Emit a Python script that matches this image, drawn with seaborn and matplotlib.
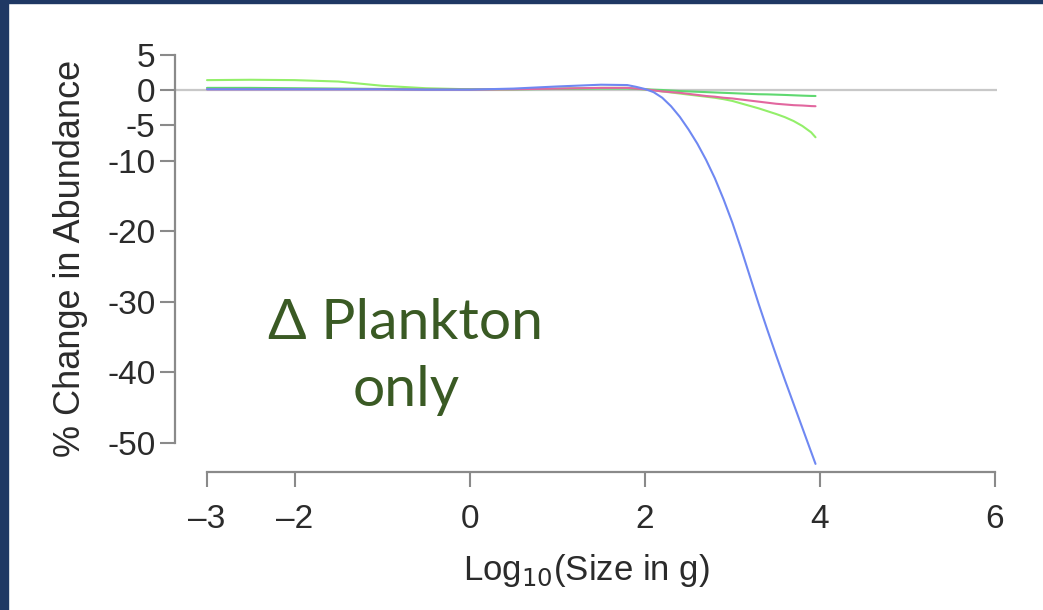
import numpy as np
import pandas as pd
import matplotlib
matplotlib.use("Agg")
import matplotlib.pyplot as plt
from matplotlib.patches import Rectangle
import seaborn as sns

# Log10 body size (g) at which each size-class response was sampled
size_log10 = [-3.0, -2.5, -2.0, -1.5, -1.0, -0.5, 0.0, 0.5, 1.0, 1.5, 1.8,
              1.9, 2.0, 2.1, 2.2, 2.3, 2.4, 2.5, 2.6, 2.7, 2.8, 2.9, 3.0,
              3.1, 3.2, 3.3, 3.4, 3.5, 3.6, 3.7, 3.8, 3.9, 3.95]

# % change in abundance for each scenario
light_green = [1.4, 1.45, 1.4, 1.2, 0.6, 0.25, 0.1, 0.1, 0.2, 0.3, 0.3,
               0.2, 0.1, -0.05, -0.2, -0.35, -0.5, -0.65, -0.8, -0.95, -1.1,
               -1.3, -1.55, -1.9, -2.25, -2.6, -3.0, -3.4, -3.85, -4.4,
               -5.1, -6.0, -6.7]
mid_green = [0.3, 0.3, 0.25, 0.2, 0.15, 0.1, 0.1, 0.1, 0.15, 0.2, 0.2,
             0.15, 0.1, 0.05, 0.0, -0.08, -0.15, -0.2, -0.25, -0.3, -0.35,
             -0.4, -0.45, -0.5, -0.55, -0.6, -0.62, -0.66, -0.7, -0.75,
             -0.8, -0.84, -0.85]
pink = [0.1, 0.1, 0.1, 0.1, 0.1, 0.05, 0.05, 0.1, 0.2, 0.3, 0.3,
        0.2, 0.1, -0.05, -0.2, -0.3, -0.4, -0.55, -0.7, -0.85, -0.95,
        -1.1, -1.2, -1.35, -1.5, -1.65, -1.8, -1.95, -2.05, -2.15,
        -2.2, -2.28, -2.3]
blue = [0.1, 0.1, 0.1, 0.1, 0.1, 0.05, 0.05, 0.2, 0.5, 0.75, 0.7,
        0.45, 0.15, -0.3, -1.1, -2.3, -3.8, -5.6, -7.6, -9.9, -12.5,
        -15.5, -18.8, -22.5, -26.4, -30.3, -34.0, -37.6, -41.1, -44.5,
        -47.9, -51.3, -53.0]

series_names = ["light", "mid", "pink", "blue"]
series_values = [light_green, mid_green, pink, blue]
series_colors = ["#93ef6a", "#5fd870", "#e2679f", "#6f88f2"]

y_ticks = [5, 0, -5, -10, -20, -30, -40, -50]
x_ticks = [-3, -2, 0, 2, 4, 6]

df = pd.concat(
    [pd.DataFrame({"size": size_log10, "change": vals, "series": name})
     for name, vals in zip(series_names, series_values)],
    ignore_index=True,
)

sns.set_theme(style="white")
plt.rcParams["font.family"] = ["Liberation Sans", "DejaVu Sans"]

W, H = 1043, 610
fig = plt.figure(figsize=(W / 100, H / 100), dpi=100)
fig.patch.set_facecolor("white")

# axes box in pixel terms: left edge on the y spine, bottom edge on the x spine
ax_l, ax_r, ax_t, ax_b = 175, 997, 45, 472
ax = fig.add_axes([ax_l / W, 1 - ax_b / H, (ax_r - ax_l) / W, (ax_b - ax_t) / H])

ax.axhline(0, color="#c8c8c8", lw=1.6, zorder=1)

sns.lineplot(data=df, x="size", y="change", hue="series",
             palette=dict(zip(series_names, series_colors)),
             hue_order=series_names, estimator=None, sort=True,
             lw=1.5, legend=False, ax=ax, zorder=3)

px_per_x = (995 - 207) / 9
ax.set_xlim(-3 - (207 - ax_l) / px_per_x, 6 + (ax_r - 995) / px_per_x)
px_per_y = (443 - 55) / 55
ax.set_ylim(-(ax_b - 90) / px_per_y, (90 - ax_t) / px_per_y)

for side in ("top", "right"):
    ax.spines[side].set_visible(False)
axis_grey = "#8a8a8a"
ax.spines["left"].set_bounds(-50, 5)
ax.spines["bottom"].set_bounds(-3, 6)
for side in ("left", "bottom"):
    ax.spines[side].set_color(axis_grey)
    ax.spines[side].set_linewidth(1.6)

ax.set_yticks(y_ticks)
ax.set_yticklabels([str(v) for v in y_ticks])
ax.set_xticks(x_ticks)
ax.set_xticklabels(["\u20133" if v == -3 else "\u20132" if v == -2 else str(v)
                    for v in x_ticks])
ax.tick_params(axis="both", which="major", direction="out", length=11,
               width=1.5, color=axis_grey, labelcolor="#2b2b2b",
               labelsize=24, left=True, bottom=True)
ax.tick_params(axis="y", pad=3)
ax.tick_params(axis="x", pad=12)

ax.set_xlabel(r"Log$_{10}$(Size in g)", fontsize=25, color="#2b2b2b",
              labelpad=12)
ax.set_ylabel("% Change in Abundance", fontsize=26, color="#2b2b2b",
              labelpad=14)
ax.patch.set_alpha(0)

fig.text(406 / W, 1 - 357 / H, "\u0394 Plankton\nonly", ha="center",
         va="center", fontsize=41, color="#3a5a24", family="Lato",
         linespacing=1.4)

# navy frame strips on the left and top edges
fig.patches.append(Rectangle((0, 0), 8 / W, 1, transform=fig.transFigure,
                             color="#1f3864", zorder=10))
fig.patches.append(Rectangle((0, 1 - 3 / H), 1, 3 / H, transform=fig.transFigure,
                             color="#1f3864", zorder=10))

fig.savefig("out.png", dpi=100)
